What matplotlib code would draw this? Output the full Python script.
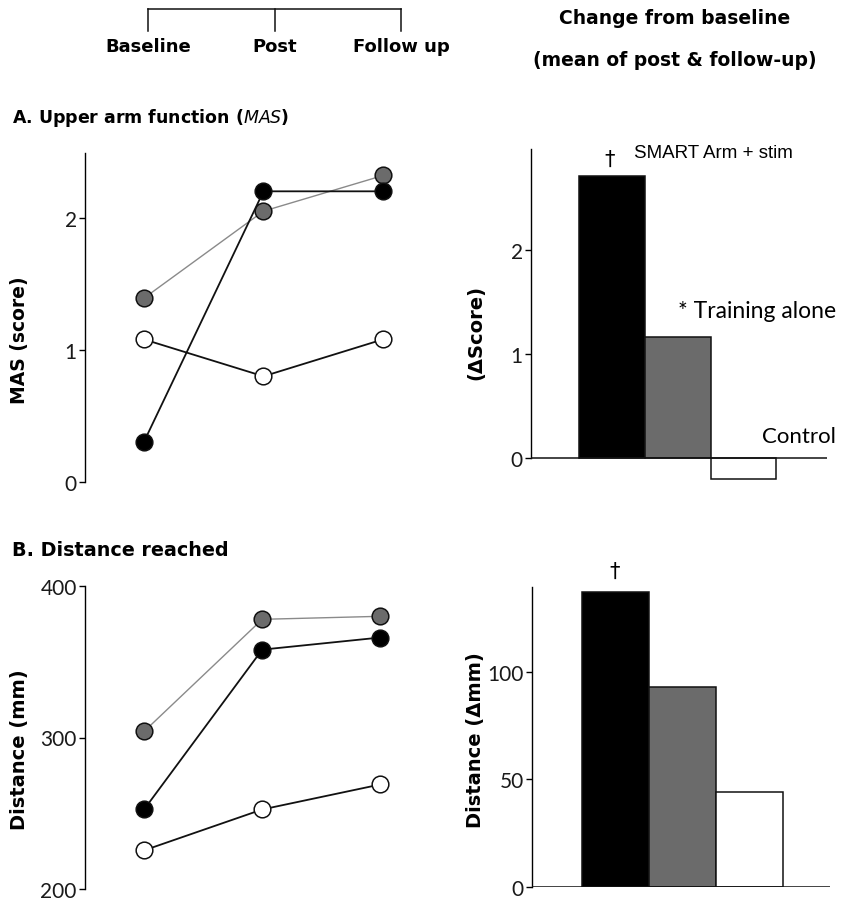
import matplotlib
matplotlib.use("Agg")
import matplotlib.pyplot as plt
from matplotlib.lines import Line2D

# ---- data ----
timepoints = ["Baseline", "Post", "Follow up"]
groups = ["SMART Arm + stim", "Training alone", "Control"]

mas_smart = [0.30, 2.20, 2.20]
mas_training = [1.39, 2.05, 2.32]
mas_control = [1.08, 0.80, 1.08]

dist_smart = [252.5, 358, 366]
dist_training = [304, 378, 380]
dist_control = [225.5, 252.5, 269]

mas_change = [2.71, 1.16, -0.20]
dist_change = [137, 93, 44]

mas_ticks = [0, 1, 2]
dist_ticks = [200, 300, 400]
mas_change_ticks = [0, 1, 2]
dist_change_ticks = [0, 50, 100]

# ---- styling ----
W, H = 842, 904
fig = plt.figure(figsize=(W / 100, H / 100), dpi=100)

def rect(l, t, r, b):
    return [l / W, 1 - b / H, (r - l) / W, (b - t) / H]

def fx(x):
    return x / W

def fy(y):
    return 1 - y / H

BOLD = dict(family="DejaVu Sans", fontweight="bold")
TICKF = "Lato"
C_BLACK = "#000000"
C_GRAY = "#6b6b6b"
C_WHITE = "#ffffff"
bar_colors = [C_BLACK, C_GRAY, C_WHITE]

def style_left(ax):
    for s in ["top", "right", "bottom"]:
        ax.spines[s].set_visible(False)
    ax.spines["left"].set_linewidth(1.0)
    ax.tick_params(axis="y", direction="out", length=4, width=1, labelsize=15, pad=2)
    for lab in ax.get_yticklabels():
        lab.set_family(TICKF)
        lab.set_fontweight("normal")
        lab.set_color("#1a1a1a")
    ax.set_xticks([])

def line_panel(ax, series, ylim, yticks):
    x = list(range(len(timepoints)))
    specs = [
        (series[1], C_GRAY, "#8a8a8a", 1.0),
        (series[0], C_BLACK, "#111111", 1.3),
        (series[2], C_WHITE, "#111111", 1.3),
    ]
    for vals, fc, lc, lw in specs:
        ax.plot(x, vals, color=lc, lw=lw, zorder=2)
    for vals, fc, lc, lw in specs:
        ax.plot(x, vals, ls="none", marker="o", ms=12, mfc=fc, mec="#111111",
                mew=1.1, zorder=3)
    ax.set_ylim(*ylim)
    ax.set_yticks(yticks)
    ax.set_yticklabels([str(t) for t in yticks])
    style_left(ax)

def bar_panel(ax, vals, ylim, yticks, xlim):
    x = list(range(len(vals)))
    ax.bar(x, vals, width=1.0, color=bar_colors, edgecolor="#111111", linewidth=1.1, zorder=2)
    ax.set_xlim(*xlim)
    ax.set_ylim(*ylim)
    ax.axhline(0, color="#111111", lw=1.1, zorder=3)
    ax.set_yticks(yticks)
    ax.set_yticklabels([str(t) for t in yticks])
    style_left(ax)
    ax.spines["left"].set_bounds(0, ylim[1])

# Panel A left
axA = fig.add_axes(rect(85, 154, 430, 483))
line_panel(axA, [mas_smart, mas_training, mas_control], (0, 2.49), mas_ticks)
axA.set_xlim(-0.49, 2.39)

# Panel A right
axAr = fig.add_axes(rect(531, 150, 827, 490))
bar_panel(axAr, mas_change, (-0.30, 2.97), mas_change_ticks, (-1.23, 3.27))

# Panel B left
axB = fig.add_axes(rect(85, 587, 430, 890))
line_panel(axB, [dist_smart, dist_training, dist_control], (200, 400), dist_ticks)
axB.set_xlim(-0.50, 2.42)

# Panel B right
axBr = fig.add_axes(rect(532, 588, 830, 888))
bar_panel(axBr, dist_change, (0, 139.5), dist_change_ticks, (-1.25, 3.2))

# ---- header bracket ----
bx = [148, 275, 401]
fig.add_artist(Line2D([fx(bx[0]), fx(bx[-1])], [fy(10), fy(10)], color="#111111", lw=1.1))
for xx, lab in zip(bx, timepoints):
    fig.add_artist(Line2D([fx(xx), fx(xx)], [fy(10), fy(32)], color="#111111", lw=1.1))
    fig.text(fx(xx), fy(47), lab, ha="center", va="center", fontsize=13, **BOLD)

fig.text(fx(675), fy(18), "Change from baseline", ha="center", va="center", fontsize=13.5, **BOLD)
fig.text(fx(675), fy(60), "(mean of post & follow-up)", ha="center", va="center", fontsize=13.5, **BOLD)

fig.text(fx(12), fy(118), "A. Upper arm function ($\\mathbf{\\mathit{MAS}}$)", ha="left", va="center",
         fontsize=12.5, **BOLD)
fig.text(fx(12), fy(550), "B. Distance reached", ha="left", va="center", fontsize=13.8, **BOLD)

# y labels
fig.text(fx(20), fy(340), "MAS (score)", rotation=90, ha="center", va="center", fontsize=13.5, **BOLD)
fig.text(fx(476), fy(333), "(\u0394Score)", rotation=90, ha="center", va="center", fontsize=14, **BOLD)
fig.text(fx(20), fy(750), "Distance (mm)", rotation=90, ha="center", va="center", fontsize=14, **BOLD)
fig.text(fx(476), fy(740), "Distance (\u0394mm)", rotation=90, ha="center", va="center", fontsize=14, **BOLD)

# annotations
fig.text(fx(610), fy(160), "\u2020", ha="center", va="center", fontsize=15, family="DejaVu Sans")
fig.text(fx(634), fy(154), groups[0], ha="left", va="center", fontsize=13.5, family="Liberation Sans")
fig.text(fx(678), fy(312), "* " + groups[1], ha="left", va="center", fontsize=16.5, family="Lato")
fig.text(fx(836), fy(437), groups[2], ha="right", va="center", fontsize=16, family="Lato")
fig.text(fx(615), fy(572), "\u2020", ha="center", va="center", fontsize=15, family="DejaVu Sans")

fig.savefig("out.png", dpi=100, facecolor="white")
